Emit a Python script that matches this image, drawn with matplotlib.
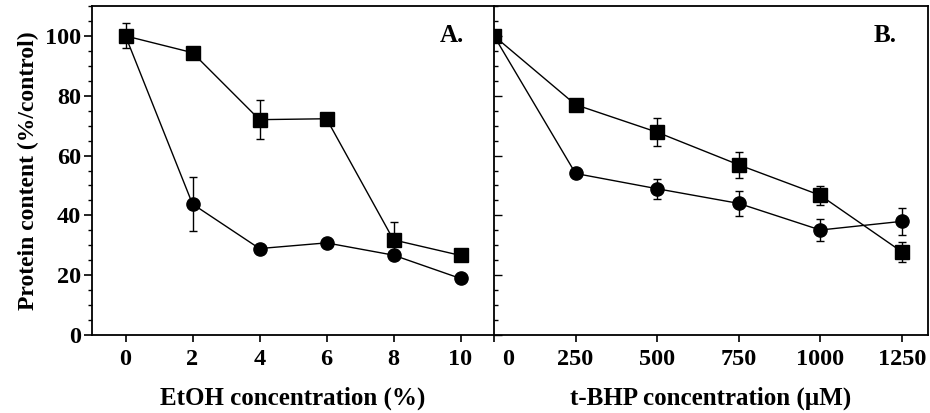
"""
Protein content after EtOH and t-BHP treatment (two panels sharing the y axis).
"""
import matplotlib
matplotlib.use("Agg")
import matplotlib.pyplot as plt
import matplotlib.transforms as mtransforms
from matplotlib.ticker import MultipleLocator

plt.rcParams['font.family'] = ['Liberation Serif', 'DejaVu Serif']
plt.rcParams['font.weight'] = 'bold'

# Panel A: EtOH concentration (%)
etoh_conc = [0, 2, 4, 6, 8, 10]
etoh_square = [100, 94.4, 72, 72.3, 31.8, 26.6]
etoh_square_err = [4.2, 1.0, 6.6, 0, 6.0, 0]
etoh_circle = [100, 43.8, 28.9, 30.8, 26.7, 18.9]
etoh_circle_err = [0, 9.0, 0, 0, 0, 0]

# Panel B: t-BHP concentration (uM)
tbhp_conc = [0, 250, 500, 750, 1000, 1250]
tbhp_square = [100, 77.0, 67.8, 56.9, 46.7, 27.8]
tbhp_square_err = [0, 0.8, 4.6, 4.4, 3.2, 3.4]
tbhp_circle = [100, 54.0, 48.9, 44.0, 35.1, 38.0]
tbhp_circle_err = [0, 0, 3.3, 4.2, 3.8, 4.5]

etoh_ticks = [0, 2, 4, 6, 8, 10]
tbhp_ticks = [0, 250, 500, 750, 1000, 1250]

W, H = 930, 413
fig = plt.figure(figsize=(W / 100, H / 100), dpi=100)

ax_a = fig.add_axes([92 / W, 78 / H, 402 / W, 329 / H])
ax_b = fig.add_axes([494 / W, 78 / H, 434 / W, 329 / H])

style = dict(color='black', linewidth=1.0, elinewidth=1.0, capsize=3, capthick=1.0)


def draw(ax, x, sq, sq_err, ci, ci_err):
    ax.errorbar(x, ci, yerr=ci_err, marker='o', markersize=9.5, **style)
    ax.errorbar(x, sq, yerr=sq_err, marker='s', markersize=9.5, **style)


draw(ax_a, etoh_conc, etoh_square, etoh_square_err, etoh_circle, etoh_circle_err)
draw(ax_b, tbhp_conc, tbhp_square, tbhp_square_err, tbhp_circle, tbhp_circle_err)

for ax in (ax_a, ax_b):
    ax.set_ylim(0, 110)
    ax.yaxis.set_major_locator(MultipleLocator(20))
    ax.yaxis.set_minor_locator(MultipleLocator(5))
    for s in ax.spines.values():
        s.set_linewidth(1.3)
    ax.tick_params(axis='x', direction='out', length=5, width=1.2, labelsize=17.5, pad=5)

ax_a.set_xlim(-1, 11)
ax_a.set_xticks(etoh_ticks)
ax_a.spines['right'].set_visible(False)
ax_a.tick_params(axis='y', which='major', direction='out', length=6, width=1.2, labelsize=17.5, pad=2)
ax_a.tick_params(axis='y', which='minor', direction='out', length=3, width=1.0)
ax_a.set_ylabel('Protein content (%/control)', fontsize=17, fontweight='bold', labelpad=4)
ax_a.set_xlabel('EtOH concentration (%)', fontsize=18, fontweight='bold', labelpad=12)
ax_a.text(10.1, 100, 'A.', fontsize=18, fontweight='bold', ha='right', va='center')

ax_b.set_xlim(0, 1330)
ax_b.set_xticks(tbhp_ticks)
ax_b.tick_params(axis='y', which='major', direction='in', length=6, width=1.0, labelleft=False)
ax_b.tick_params(axis='y', which='minor', direction='in', length=3, width=1.0)
ax_b.set_xlabel('t-BHP concentration (\u00b5M)', fontsize=18, fontweight='bold', labelpad=12)
ax_b.text(1235, 100, 'B.', fontsize=18, fontweight='bold', ha='right', va='center')

# shift the first "0" label of panel B off the shared spine
zero_lbl = ax_b.get_xticklabels()[0]
zero_lbl.set_transform(zero_lbl.get_transform() +
                       mtransforms.ScaledTranslation(14 / 100, 0, fig.dpi_scale_trans))

fig.savefig('out.png', dpi=100)
